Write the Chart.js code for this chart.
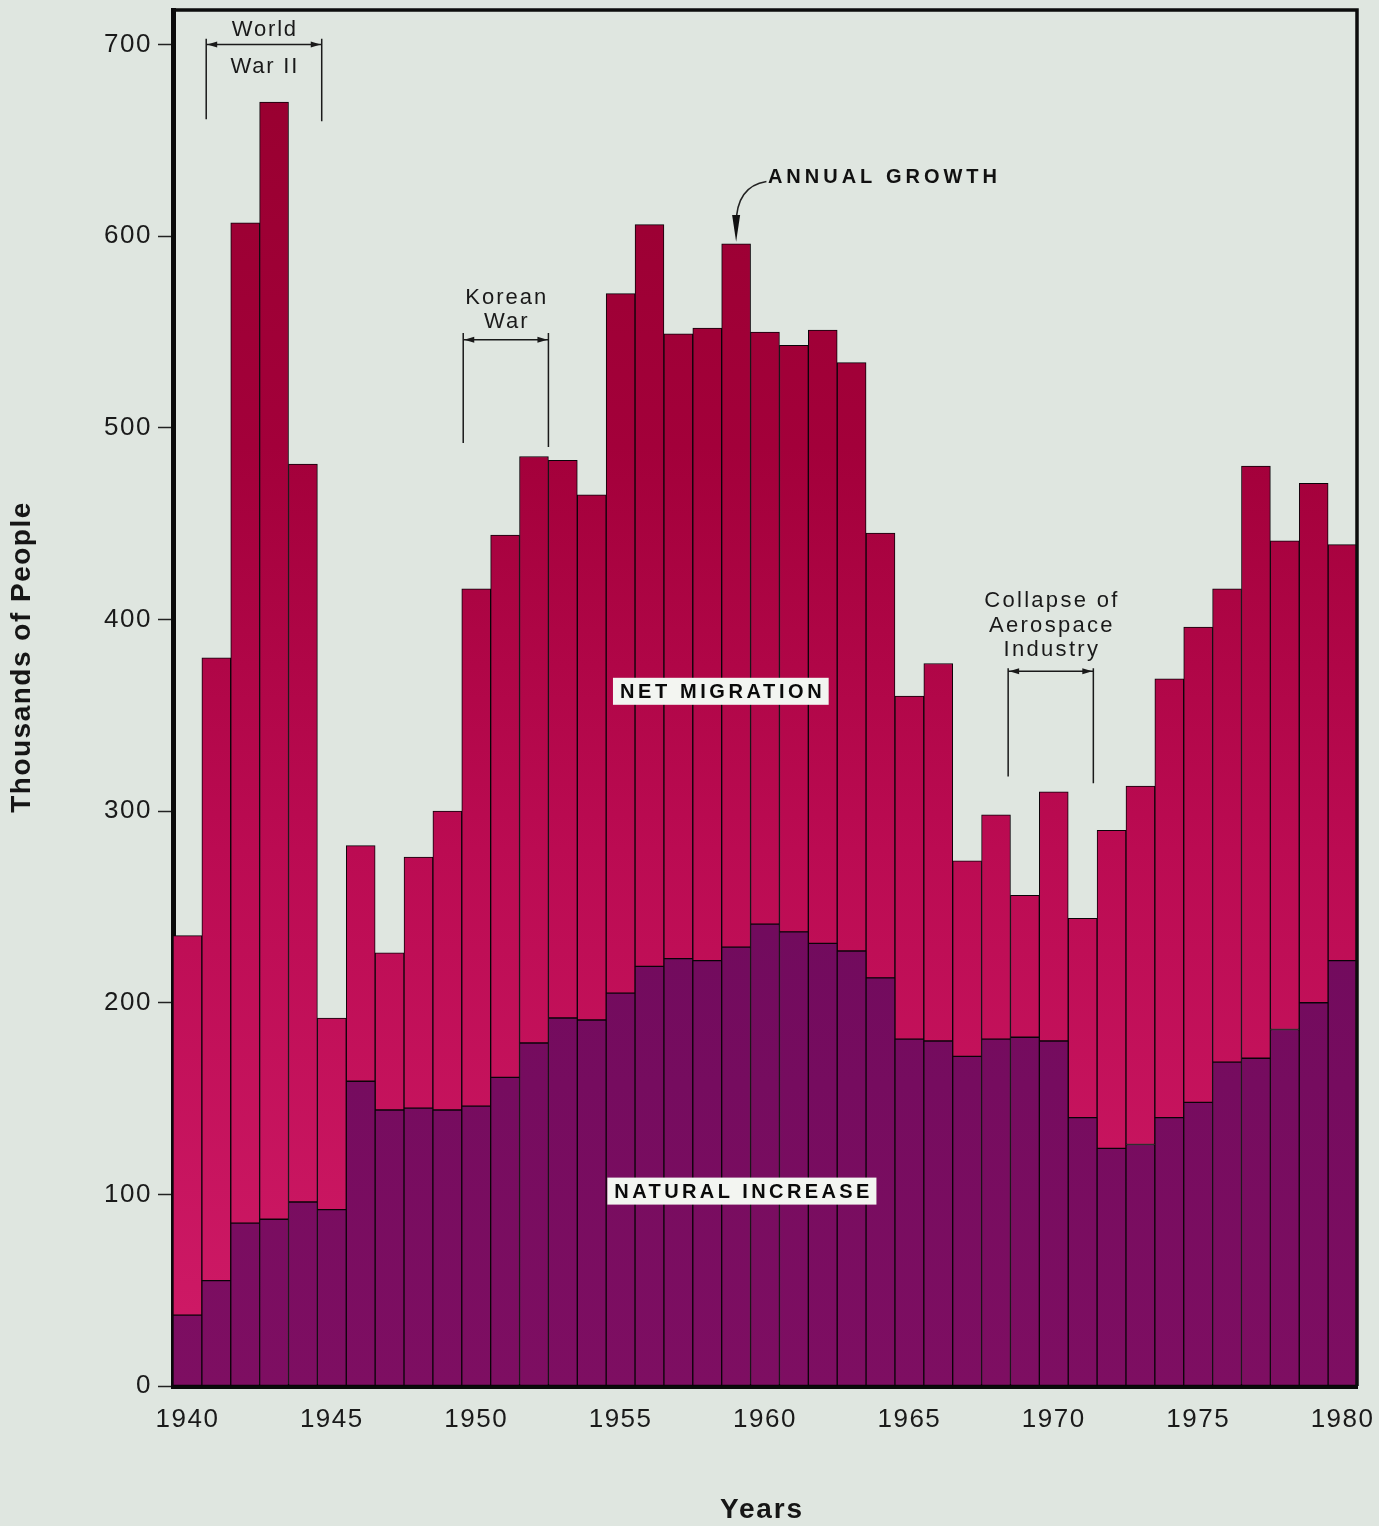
<!DOCTYPE html>
<html>
<head>
<meta charset="utf-8">
<script src="https://cdn.jsdelivr.net/npm/chart.js@4.4.1/dist/chart.umd.min.js"></script>
<style>
html,body{margin:0;padding:0;background:#dfe6e0;}
#wrap{width:1379px;height:1526px;position:relative;}
canvas{display:block;}
</style>
</head>
<body>
<div id="wrap"><canvas id="c" width="1379" height="1526"></canvas></div>
<script>
// ---- data (thousands of people) ----
const years = ['1940','1941','1942','1943','1944','1945','1946','1947','1948','1949',
               '1950','1951','1952','1953','1954','1955','1956','1957','1958','1959',
               '1960','1961','1962','1963','1964','1965','1966','1967','1968','1969',
               '1970','1971','1972','1973','1974','1975','1976','1977','1978','1979','1980'];
const naturalIncrease = [37, 55, 85, 87, 96, 92, 159, 144, 145, 144,
                         146, 161, 179, 192, 191, 205, 219, 223, 222, 229,
                         241, 237, 231, 227, 213, 181, 180, 172, 181, 182,
                         180, 140, 124, 126, 140, 148, 169, 171, 186, 200, 222];
const netMigration = [198, 325, 522, 583, 385, 100, 123, 82, 131, 156,
                      270, 283, 306, 291, 274, 365, 387, 326, 330, 367,
                      309, 306, 320, 307, 232, 179, 197, 102, 117, 74,
                      130, 104, 166, 187, 229, 248, 247, 309, 255, 271, 217];
const yTicks = [0, 100, 200, 300, 400, 500, 600, 700];

const FONT = "'Liberation Sans', Arial, Helvetica, sans-serif";

let gradCache = {};
function grad(chart, key, stops) {
  const ca = chart.chartArea;
  if (!ca) return stops[stops.length - 1][1];
  const k = key + ca.top + '_' + ca.bottom;
  if (gradCache[k]) return gradCache[k];
  const ys = chart.scales.y;
  const g = chart.ctx.createLinearGradient(0, ys.getPixelForValue(700), 0, ys.getPixelForValue(0));
  stops.forEach(s => g.addColorStop(s[0], s[1]));
  gradCache[k] = g;
  return g;
}

function spacedText(ctx, text, x, y, spacing, align) {
  ctx.letterSpacing = spacing + 'px';
  ctx.textAlign = align || 'center';
  const off = (align === 'left') ? 0 : (align === 'right' ? spacing : spacing / 2);
  ctx.fillText(text, x + off, y);
}

const decor = {
  id: 'decor',
  beforeDraw(chart) {
    const ctx = chart.ctx;
    ctx.save();
    ctx.fillStyle = '#dfe6e0';
    ctx.fillRect(0, 0, chart.width, chart.height);
    ctx.restore();
    ctx.letterSpacing = '1.5px';
  },
  afterDraw(chart) {
    const ctx = chart.ctx;
    const xs = chart.scales.x, ys = chart.scales.y;
    const ca = chart.chartArea;
    const XE = yr => xs.getPixelForValue(yr - 1940 - 0.5); // year boundary
    const XC = yr => xs.getPixelForValue(yr - 1940);       // year centre
    const Y = v => ys.getPixelForValue(v);

    ctx.save();
    // frame top & right
    ctx.strokeStyle = '#0d0d0d';
    ctx.lineWidth = 3.5;
    ctx.beginPath();
    ctx.moveTo(ca.left, ca.top);
    ctx.lineTo(ca.right, ca.top);
    ctx.lineTo(ca.right, ca.bottom);
    ctx.stroke();

    function arrowHead(xTip, y, dir) {
      ctx.beginPath();
      ctx.moveTo(xTip, y);
      ctx.lineTo(xTip + dir * 10, y - 3);
      ctx.lineTo(xTip + dir * 10, y + 3);
      ctx.closePath();
      ctx.fill();
    }
    function bracket(y0, y1, top, hy, botL, botR) {
      const xl = XE(y0), xr = XE(y1);
      ctx.strokeStyle = '#1a1a1a';
      ctx.fillStyle = '#1a1a1a';
      ctx.lineWidth = 1.5;
      ctx.beginPath();
      ctx.moveTo(xl, Y(top)); ctx.lineTo(xl, Y(botL));
      ctx.moveTo(xr, Y(top)); ctx.lineTo(xr, Y(botR));
      ctx.moveTo(xl, Y(hy)); ctx.lineTo(xr, Y(hy));
      ctx.stroke();
      arrowHead(xl + 1, Y(hy), 1);
      arrowHead(xr - 1, Y(hy), -1);
      return (xl + xr) / 2;
    }
    ctx.font = '22px ' + FONT;
    ctx.textBaseline = 'middle';

    let cx = bracket(1941.15, 1945.15, 703, 700, 661, 660);
    ctx.fillStyle = '#1a1a1a';
    spacedText(ctx, 'World', cx, Y(707.5), 1.8);
    spacedText(ctx, 'War II', cx, Y(688.5), 1.8);

    cx = bracket(1950.05, 1953.0, 549.5, 546, 492, 490);
    ctx.fillStyle = '#1a1a1a';
    spacedText(ctx, 'Korean', cx, Y(567.5), 2);
    spacedText(ctx, 'War', cx, Y(555), 2);

    cx = bracket(1968.92, 1971.87, 374.5, 373, 318, 314.5);
    ctx.fillStyle = '#1a1a1a';
    spacedText(ctx, 'Collapse of', cx, Y(409.5), 2.3);
    spacedText(ctx, 'Aerospace', cx, Y(396.4), 2.3);
    spacedText(ctx, 'Industry', cx, Y(383.9), 2.3);

    // ANNUAL GROWTH label + curved arrow
    ctx.font = 'bold 20px ' + FONT;
    ctx.fillStyle = '#111';
    spacedText(ctx, 'ANNUAL GROWTH', XE(1960.6), Y(630.6), 4, 'left');
    ctx.strokeStyle = '#222';
    ctx.lineWidth = 1.6;
    ctx.beginPath();
    ctx.moveTo(XE(1960.55), Y(628.5));
    ctx.quadraticCurveTo(XC(1959), Y(626), XC(1959), Y(606));
    ctx.stroke();
    ctx.fillStyle = '#111';
    ctx.beginPath();
    ctx.moveTo(XC(1959), Y(596) - 2);
    ctx.lineTo(XC(1959) - 4, Y(611));
    ctx.lineTo(XC(1959) + 4, Y(611));
    ctx.closePath();
    ctx.fill();

    function boxLabel(text, xc, yc, spacing) {
      ctx.font = 'bold 20px ' + FONT;
      ctx.letterSpacing = spacing + 'px';
      const w = ctx.measureText(text).width - spacing;
      const bw = w + 14, bh = 27;
      ctx.fillStyle = '#f3f5f1';
      ctx.fillRect(xc - bw / 2, yc - bh / 2, bw, bh);
      ctx.fillStyle = '#0a0a0a';
      ctx.textAlign = 'left';
      ctx.textBaseline = 'middle';
      ctx.fillText(text, xc - w / 2, yc + 1);
    }
    boxLabel('NET MIGRATION', XE(1958.97), Y(362.5), 3.6);
    boxLabel('NATURAL INCREASE', XE(1959.7), Y(101.7), 3.4);

    // axis titles
    ctx.fillStyle = '#161616';
    ctx.font = 'bold 28px ' + FONT;
    ctx.textBaseline = 'middle';
    ctx.save();
    ctx.translate(22, Y(380));
    ctx.rotate(-Math.PI / 2);
    spacedText(ctx, 'Thousands of People', 0, 0, 1.5);
    ctx.restore();
    ctx.font = 'bold 28px ' + FONT;
    spacedText(ctx, 'Years', XC(1960) - 4, 1510, 1.8);
    ctx.restore();
  }
};

const chart = new Chart(document.getElementById('c'), {
  type: 'bar',
  data: {
    labels: years,
    datasets: [
      {
        label: 'Natural Increase',
        data: naturalIncrease,
        backgroundColor: c => grad(c.chart, 'n', [[0, '#5e0650'], [0.55, '#6e0a5c'], [1, '#7e0e62']]),
        borderColor: '#0a0308',
        borderWidth: 1,
        borderSkipped: false,
        barPercentage: 1,
        categoryPercentage: 1,
        stack: 's'
      },
      {
        label: 'Net Migration',
        data: netMigration,
        backgroundColor: c => grad(c.chart, 'm', [[0, '#98002f'], [0.3, '#a3003a'], [0.6, '#bb0b52'], [1, '#d01b68']]),
        borderColor: '#0a0308',
        borderWidth: 1,
        borderSkipped: false,
        barPercentage: 1,
        categoryPercentage: 1,
        stack: 's'
      }
    ]
  },
  options: {
    responsive: false,
    animation: false,
    devicePixelRatio: 1,
    layout: { padding: { top: 10, right: 22, left: 0, bottom: 0 } },
    plugins: { legend: { display: false }, tooltip: { enabled: false } },
    scales: {
      x: {
        stacked: true,
        offset: true,
        grid: { display: false, drawTicks: false },
        border: { display: true, color: '#0a0a0a', width: 5 },
        ticks: {
          autoSkip: false,
          maxRotation: 0,
          minRotation: 0,
          padding: 18,
          color: '#1a1a1a',
          font: { family: FONT, size: 26 },
          callback: (v, i) => (parseInt(years[i], 10) % 5 === 0 ? years[i] : '')
        },
        afterFit: s => { s.height = 140; s.paddingLeft = 0; s.paddingRight = 0; }
      },
      y: {
        stacked: true,
        min: 0,
        max: 718,
        grid: { drawOnChartArea: false, drawTicks: true, tickLength: 15, tickColor: '#222', tickWidth: 1.5 },
        border: { display: true, color: '#0a0a0a', width: 5 },
        ticks: {
          padding: 6,
          color: '#1a1a1a',
          font: { family: FONT, size: 26 }
        },
        afterBuildTicks: s => { s.ticks = yTicks.map(v => ({ value: v })); },
        afterFit: s => { s.width = 173; s.paddingTop = 0; s.paddingBottom = 0; }
      }
    }
  },
  plugins: [decor]
});
</script>
</body>
</html>
